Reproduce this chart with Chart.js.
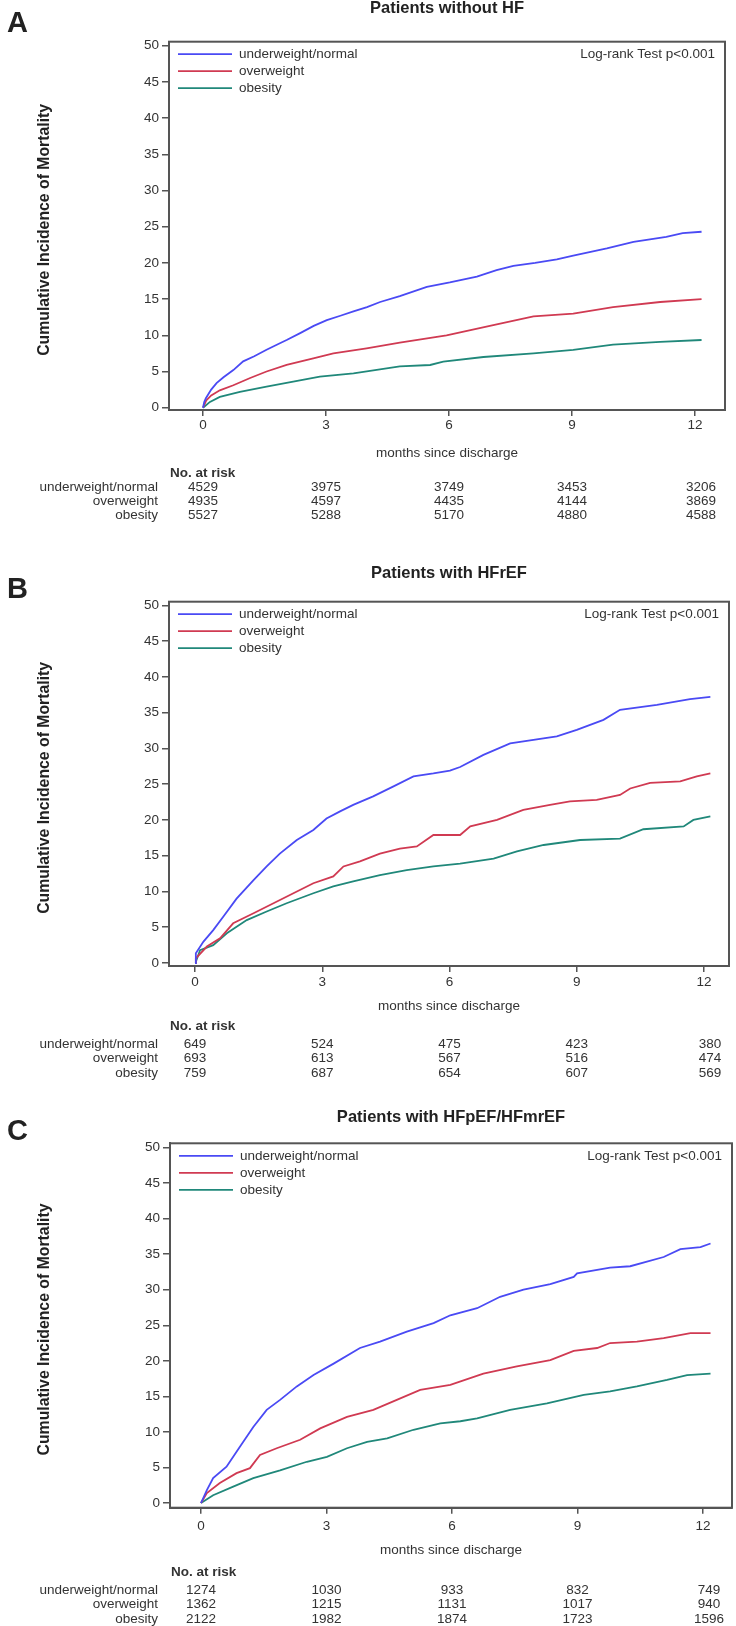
<!DOCTYPE html>
<html>
<head>
<meta charset="utf-8">
<script src="https://cdn.jsdelivr.net/npm/chart.js@4.4.1/dist/chart.umd.min.js"></script>
<style>
  html, body { margin: 0; padding: 0; background: #fff; }
  #wrap { position: relative; width: 736px; height: 1626px; }
  canvas { position: absolute; left: 0; }
</style>
</head>
<body>
<div id="wrap">
  <canvas id="panelA" width="736" height="540" style="top:0px"></canvas>
  <canvas id="panelB" width="736" height="540" style="top:540px"></canvas>
  <canvas id="panelC" width="736" height="546" style="top:1080px"></canvas>
</div>
<script>
// axes
const monthTicks = [0, 3, 6, 9, 12];
const yTicks = [0, 5, 10, 15, 20, 25, 30, 35, 40, 45, 50];
const groups = ['underweight/normal', 'overweight', 'obesity'];
const groupColors = ['#4a4af4', '#d03a52', '#20887a'];

// A - patients without HF  ([month, cumulative incidence %])
const aUnder = [[0,0],[0.03,0.8],[0.07,1.3],[0.2,2.5],[0.33,3.4],[0.5,4.2],[0.74,5.2],[0.98,6.4],[1.25,7.1],[1.55,8.0],[1.8,8.7],[2.04,9.35],[2.37,10.3],[2.7,11.3],[3.02,12.1],[3.35,12.7],[3.67,13.3],[4.0,13.9],[4.32,14.6],[4.8,15.4],[5.46,16.7],[6.02,17.3],[6.68,18.1],[7.16,19.0],[7.57,19.6],[8.1,20.0],[8.63,20.5],[9.03,21.0],[9.85,22.0],[10.5,22.9],[11.3,23.6],[11.7,24.1],[12.16,24.3]];
const aOver = [[0,0],[0.08,1.0],[0.2,1.7],[0.41,2.4],[0.74,3.1],[1.15,4.1],[1.55,5.0],[2.04,5.9],[2.69,6.8],[3.18,7.5],[3.99,8.2],[4.8,9.0],[5.94,10.0],[7.08,11.4],[8.06,12.6],[9.03,13.0],[10.0,13.9],[11.15,14.6],[12.16,15.0]];
const aObese = [[0,0],[0.17,0.8],[0.41,1.5],[0.9,2.2],[1.55,2.9],[2.2,3.6],[2.85,4.3],[3.67,4.75],[4.8,5.7],[5.54,5.9],[5.86,6.35],[6.84,7.0],[8.06,7.5],[9.03,8.0],[10.0,8.7],[11.15,9.1],[12.16,9.35]];
const aRiskUnder = [4529, 3975, 3749, 3453, 3206];
const aRiskOver = [4935, 4597, 4435, 4144, 3869];
const aRiskObese = [5527, 5288, 5170, 4880, 4588];

// B - patients with HFrEF
const bUnder = [[0,0],[0.02,1.35],[0.2,3.0],[0.43,4.6],[0.67,6.5],[0.98,9.0],[1.38,11.6],[1.69,13.5],[2.0,15.3],[2.4,17.2],[2.79,18.6],[3.1,20.2],[3.42,21.2],[3.73,22.1],[4.2,23.3],[4.68,24.7],[5.15,26.1],[5.62,26.5],[6.01,26.9],[6.25,27.4],[6.8,29.1],[7.43,30.7],[8.53,31.7],[9.0,32.6],[9.63,34.0],[10.02,35.4],[10.89,36.1],[11.67,36.9],[12.15,37.2]];
const bOver = [[0,0],[0.02,0.65],[0.28,2.3],[0.59,3.45],[0.9,5.55],[1.38,6.95],[1.85,8.35],[2.32,9.75],[2.79,11.15],[3.26,12.1],[3.5,13.5],[3.89,14.2],[4.36,15.3],[4.83,16.0],[5.23,16.3],[5.62,17.9],[6.25,17.9],[6.49,19.1],[7.12,20.0],[7.74,21.4],[8.37,22.1],[8.84,22.6],[9.47,22.8],[10.02,23.5],[10.26,24.4],[10.73,25.2],[11.44,25.4],[11.83,26.1],[12.15,26.5]];
const bObese = [[0,0],[0.02,0.2],[0.12,1.8],[0.43,2.5],[0.75,4.15],[1.22,6.0],[1.69,7.2],[2.16,8.35],[2.79,9.75],[3.26,10.7],[3.73,11.4],[4.36,12.3],[4.99,13.0],[5.62,13.5],[6.25,13.9],[7.04,14.6],[7.59,15.6],[8.22,16.5],[9.08,17.2],[10.02,17.4],[10.57,18.7],[11.52,19.1],[11.75,20.0],[12.15,20.5]];
const bRiskUnder = [649, 524, 475, 423, 380];
const bRiskOver = [693, 613, 567, 516, 474];
const bRiskObese = [759, 687, 654, 607, 569];

// C - patients with HFpEF/HFmrEF
const cUnder = [[0,0],[0.14,1.8],[0.29,3.5],[0.61,5.1],[0.93,7.9],[1.25,10.7],[1.57,13.1],[1.89,14.5],[2.29,16.4],[2.69,18.0],[3.17,19.6],[3.8,21.8],[4.28,22.7],[4.92,24.1],[5.56,25.3],[5.96,26.4],[6.6,27.4],[7.15,29.0],[7.71,30.0],[8.35,30.8],[8.91,31.8],[8.99,32.3],[9.78,33.1],[10.26,33.3],[11.06,34.6],[11.46,35.7],[11.94,36.0],[12.18,36.5]];
const cOver = [[0,0],[0.14,1.4],[0.45,2.8],[0.85,4.2],[1.17,4.9],[1.41,6.75],[1.81,7.7],[2.37,8.9],[2.85,10.5],[3.49,12.1],[4.12,13.1],[4.68,14.5],[5.24,15.9],[5.96,16.6],[6.75,18.2],[7.55,19.2],[8.35,20.1],[8.91,21.4],[9.47,21.8],[9.78,22.5],[10.42,22.7],[11.06,23.2],[11.7,23.9],[12.18,23.9]];
const cObese = [[0,0],[0.29,1.1],[0.77,2.3],[1.25,3.5],[1.89,4.6],[2.53,5.8],[3.01,6.5],[3.49,7.7],[3.97,8.6],[4.45,9.1],[5.08,10.3],[5.72,11.2],[6.2,11.5],[6.6,11.9],[7.39,13.1],[8.27,14.0],[9.15,15.2],[9.78,15.7],[10.42,16.4],[11.14,17.3],[11.62,18.0],[12.18,18.2]];
const cRiskUnder = [1274, 1030, 933, 832, 749];
const cRiskOver = [1362, 1215, 1131, 1017, 940];
const cRiskObese = [2122, 1982, 1874, 1723, 1596];

const FONT = '"Liberation Sans", Arial, sans-serif';
const AXIS = '#555';
const TEXT = '#222';

// page layout of each panel (box = plot frame, x0/x12 and y0/y50 = tick pixels)
const panels = [
  { id: 'panelA', top: 0, height: 540, letter: 'A', letterY: 32, title: 'Patients without HF', titleY: 8.5,
    box: { l: 169, r: 725, t: 41.7, b: 410 }, x0: 203, x12: 695, y0: 407.7, y50: 45.7, tickPad: 1,
    monthsY: 453, headY: 473, rowY: 487, rowGap: 14,
    series: [aUnder, aOver, aObese], risk: [aRiskUnder, aRiskOver, aRiskObese] },
  { id: 'panelB', top: 540, height: 540, letter: 'B', letterY: 598, title: 'Patients with HFrEF', titleY: 573,
    box: { l: 169, r: 729, t: 601.7, b: 966 }, x0: 195, x12: 704, y0: 963, y50: 605.4, tickPad: 2,
    monthsY: 1006.5, headY: 1026, rowY: 1044, rowGap: 14.5,
    series: [bUnder, bOver, bObese], risk: [bRiskUnder, bRiskOver, bRiskObese] },
  { id: 'panelC', top: 1080, height: 546, letter: 'C', letterY: 1140, title: 'Patients with HFpEF/HFmrEF', titleY: 1117.5,
    box: { l: 170, r: 732, t: 1143.3, b: 1507.7 }, x0: 201, x12: 703, y0: 1503, y50: 1147.5, tickPad: 4,
    monthsY: 1550, headY: 1572.5, rowY: 1590, rowGap: 14.5,
    series: [cUnder, cOver, cObese], risk: [cRiskUnder, cRiskOver, cRiskObese] }
];

function makeDecor(p) {
  return {
    id: 'decor' + p.letter,
    afterDraw(chart) {
      const ctx = chart.ctx;
      const a = chart.chartArea;
      const off = p.top;
      const cx = (a.left + a.right) / 2;
      ctx.save();
      // frame
      ctx.strokeStyle = AXIS;
      ctx.lineWidth = 2;
      ctx.strokeRect(a.left, a.top, a.right - a.left, a.bottom - a.top);

      ctx.fillStyle = TEXT;
      // panel letter
      ctx.font = 'bold 29px ' + FONT;
      ctx.textAlign = 'left';
      ctx.textBaseline = 'alphabetic';
      ctx.fillText(p.letter, 7, p.letterY - off);

      // title
      ctx.font = 'bold 16.5px ' + FONT;
      ctx.textAlign = 'center';
      ctx.textBaseline = 'middle';
      ctx.fillText(p.title, cx, p.titleY - off);

      // y axis title
      ctx.save();
      ctx.translate(45, (a.top + a.bottom) / 2 + 4);
      ctx.rotate(-Math.PI / 2);
      ctx.font = 'bold 15.8px ' + FONT;
      ctx.fillText('Cumulative Incidence of Mortality', 0, 0);
      ctx.restore();

      // legend inside the frame
      ctx.font = '13.5px ' + FONT;
      ctx.textAlign = 'left';
      groups.forEach((g, i) => {
        const y = a.top + 12.5 + i * 17;
        ctx.strokeStyle = groupColors[i];
        ctx.lineWidth = 1.8;
        ctx.beginPath();
        ctx.moveTo(a.left + 9, y);
        ctx.lineTo(a.left + 63, y);
        ctx.stroke();
        ctx.fillStyle = '#333';
        ctx.fillText(g, a.left + 70, y);
      });

      // log-rank
      ctx.textAlign = 'right';
      ctx.fillText('Log-rank Test p<0.001', a.right - 10, a.top + 13);

      // x axis title
      ctx.textAlign = 'center';
      ctx.fillText('months since discharge', cx, p.monthsY - off);

      // number at risk
      ctx.font = 'bold 13.5px ' + FONT;
      ctx.textAlign = 'left';
      ctx.fillText('No. at risk', a.left + 1, p.headY - off);
      ctx.font = '13.5px ' + FONT;
      const xs = chart.scales.x;
      groups.forEach((g, i) => {
        const y = p.rowY - off + i * p.rowGap;
        ctx.textAlign = 'right';
        ctx.fillText(g, 158, y);
        ctx.textAlign = 'center';
        p.risk[i].forEach((n, j) => {
          const x = xs.getPixelForValue(monthTicks[j]) + (j === monthTicks.length - 1 ? 6 : 0);
          ctx.fillText(String(n), x, y);
        });
      });
      ctx.restore();
    }
  };
}

panels.forEach(p => {
  const b = p.box;
  const pxPerMonth = (p.x12 - p.x0) / 12;
  const pxPerUnit = (p.y0 - p.y50) / 50;
  const xMin = -(p.x0 - b.l) / pxPerMonth;
  const xMax = 12 + (b.r - p.x12) / pxPerMonth;
  const yMin = -(b.b - p.y0) / pxPerUnit;
  const yMax = 50 + (p.y50 - b.t) / pxPerUnit;

  const tickFont = { family: FONT, size: 13.5 };

  new Chart(document.getElementById(p.id), {
    type: 'line',
    data: {
      datasets: p.series.map((s, i) => ({
        label: groups[i],
        data: s.map(([x, y]) => ({ x, y })),
        borderColor: groupColors[i],
        borderWidth: 1.8,
        pointRadius: 0,
        fill: false,
        tension: 0
      }))
    },
    options: {
      responsive: false,
      animation: false,
      devicePixelRatio: 1,
      layout: { padding: { left: 0, right: 736 - b.r, top: b.t - p.top, bottom: 0 } },
      plugins: { legend: { display: false }, tooltip: { enabled: false } },
      scales: {
        x: {
          type: 'linear',
          min: xMin,
          max: xMax,
          afterBuildTicks: s => { s.ticks = monthTicks.map(v => ({ value: v })); },
          afterFit: s => { s.height = p.height - (b.b - p.top); },
          ticks: { font: tickFont, color: '#333', padding: p.tickPad, maxRotation: 0 },
          grid: { drawOnChartArea: false, drawTicks: true, tickLength: 6, color: AXIS, lineWidth: 1.5 },
          border: { display: true, color: AXIS, width: 2 }
        },
        y: {
          type: 'linear',
          min: yMin,
          max: yMax,
          afterBuildTicks: s => { s.ticks = yTicks.map(v => ({ value: v })); },
          afterFit: s => { s.width = b.l; },
          ticks: { font: tickFont, color: '#333', padding: 3 },
          grid: { drawOnChartArea: false, drawTicks: true, tickLength: 7, color: AXIS, lineWidth: 1.5 },
          border: { display: true, color: AXIS, width: 2 }
        }
      }
    },
    plugins: [makeDecor(p)]
  });
});
</script>
</body>
</html>
